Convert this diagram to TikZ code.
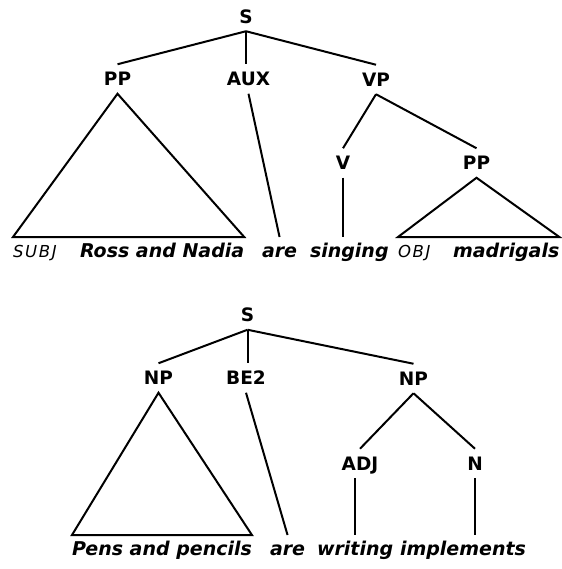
\documentclass[tikz,border=0pt]{standalone}
\usepackage{fontspec}
\setmainfont{DejaVu Sans}
\newfontfamily\spacedfont[LetterSpace=10]{DejaVu Sans}
\begin{document}
\begin{tikzpicture}[x=1pt,y=-1pt,
  cat/.style={font=\bfseries\fontsize{18.5}{20}\selectfont, inner sep=0pt, outer sep=8pt, text height=13.5pt, text depth=0pt, anchor=center},
  word/.style={font=\bfseries\itshape\fontsize{19}{20}\selectfont, inner sep=0pt, outer ysep=6.5pt, outer xsep=0pt, text height=13.5pt, text depth=0pt, anchor=base west},
  role/.style={font=\spacedfont\itshape\fontsize{16.5}{17}\selectfont, inner sep=0pt, outer ysep=6.5pt, outer xsep=0pt, text height=13.5pt, text depth=0pt, anchor=base west},
  edge/.style={line width=2pt}]
\useasboundingbox (0,0) rectangle (561,569);

% ---- top tree ----
\node[cat] (S1) at (246,16.5) {S};
\node[cat] (PP1) at (117.5,79) {PP};
\node[cat] (AUX) at (248.5,79) {AUX};
\node[cat] (VP) at (376,79.5) {VP};
\node[cat] (V) at (343,163) {V};
\node[cat] (PP2) at (476.5,163) {PP};

\node[role] (subj) at (13,257) {SUBJ};
\node[word] (ross) at (80,257) {Ross and Nadia};
\node[word] (are1) at (262,257) {are};
\node[word] (sing) at (310,257) {singing};
\node[role] (obj) at (398,257) {OBJ};
\node[word] (madr) at (453,257) {madrigals};

\draw[edge] (S1.south) -- (PP1.north);
\draw[edge] (S1.south) -- (S1.south |- AUX.north);
\draw[edge] (S1.south) -- (VP.north);
\draw[edge] (subj.north west) -- (PP1.south) -- (ross.north east) -- cycle;
\draw[edge] (AUX.south) -- (are1.north);
\draw[edge] (VP.south) -- (V.north);
\draw[edge] (VP.south) -- (PP2.north);
\draw[edge] (V.south) -- (V.south |- sing.north);
\draw[edge] (obj.north west) -- (PP2.south) -- (madr.north east) -- cycle;

% ---- bottom tree ----
\node[cat] (S2) at (247.5,315) {S};
\node[cat] (NP1) at (158.5,378) {NP};
\node[cat] (BE) at (246,378) {BE2};
\node[cat] (NP2) at (413.5,378.5) {NP};
\node[cat] (ADJ) at (360,463.5) {ADJ};
\node[cat] (N) at (475,463.5) {N};

\node[word] (pens) at (72,555) {Pens and pencils};
\node[word] (are2) at (270,555) {are};
\node[word] (writ) at (317,555) {writing};
\node[word] (impl) at (400,555) {implements};

\draw[edge] (S2.south) -- (NP1.north);
\draw[edge] (S2.south) -- (S2.south |- BE.north);
\draw[edge] (S2.south) -- (NP2.north);
\draw[edge] (pens.north west) -- (NP1.south) -- (pens.north east) -- cycle;
\draw[edge] (BE.south) -- (are2.north);
\draw[edge] (NP2.south) -- (ADJ.north);
\draw[edge] (NP2.south) -- (N.north);
\draw[edge] (ADJ.south -| writ.north) -- (writ.north);
\draw[edge] (N.south) -- (N.south |- impl.north);
\end{tikzpicture}
\end{document}
